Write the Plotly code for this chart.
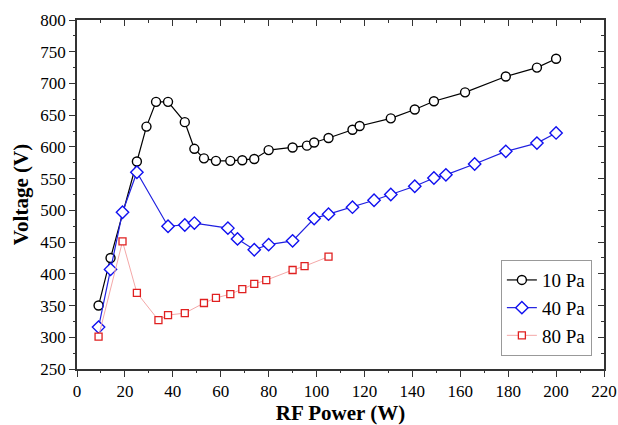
import plotly.graph_objects as go

# 10 Pa
p10_x = [9, 14, 25, 29, 33, 38, 45, 49, 53, 58, 64, 69, 74, 80, 90, 96, 99, 105, 115, 118, 131, 141, 149, 162, 179, 192, 200]
p10_y = [350, 425, 577, 632, 671, 671, 639, 597, 582, 578, 578, 579, 581, 595, 599, 602, 607, 614, 627, 633, 645, 659, 672, 686, 711, 725, 739]
# 40 Pa
p40_x = [9, 14, 19, 25, 38, 45, 49, 63, 67, 74, 80, 90, 99, 105, 115, 124, 131, 141, 149, 154, 166, 179, 192, 200]
p40_y = [316, 407, 497, 560, 475, 477, 480, 472, 455, 438, 446, 452, 487, 494, 505, 516, 525, 538, 551, 556, 573, 593, 606, 622]
# 80 Pa
p80_x = [9, 19, 25, 34, 38, 45, 53, 58, 64, 69, 74, 79, 90, 95, 105]
p80_y = [301, 451, 370, 327, 335, 338, 354, 362, 368, 376, 384, 390, 406, 412, 427]

names = ["10 Pa", "40 Pa", "80 Pa"]
x_ticks = list(range(0, 221, 20))
y_ticks = list(range(250, 801, 50))
x_minor = list(range(10, 220, 20))
y_minor = list(range(275, 800, 50))

FONT = "Liberation Serif"
X_RANGE = [0, 220]
Y_RANGE = [250, 800]

fig = go.Figure()
fig.add_trace(go.Scatter(
    x=p10_x, y=p10_y, name=names[0], mode="lines+markers",
    line=dict(color="black", width=1.2),
    marker=dict(symbol="circle", size=9, color="white", line=dict(color="black", width=1.4)),
))
fig.add_trace(go.Scatter(
    x=p40_x, y=p40_y, name=names[1], mode="lines+markers",
    line=dict(color="#2020e0", width=1.2),
    marker=dict(symbol="diamond", size=9.5, color="white", line=dict(color="#1010f0", width=1.4)),
))
fig.add_trace(go.Scatter(
    x=p80_x, y=p80_y, name=names[2], mode="lines+markers",
    line=dict(color="#f4a8a8", width=1.0),
    marker=dict(symbol="square", size=7, color="white", line=dict(color="#e02020", width=1.3)),
))
# empty traces that create the extra tick-only axes
for k in ("2", "3", "4"):
    fig.add_trace(go.Scatter(x=[], y=[], xaxis="x" + k, yaxis="y" + k, showlegend=False, hoverinfo="skip"))

base = dict(showgrid=False, zeroline=False, automargin=False, tickcolor="#333")

fig.update_layout(
    width=618, height=425,
    margin=dict(l=77, r=14, t=20, b=56, autoexpand=False),
    paper_bgcolor="white", plot_bgcolor="white",
    font=dict(family=FONT, size=16, color="black"),
    xaxis=dict(range=X_RANGE, tickvals=x_ticks, ticks="outside", ticklen=6, tickwidth=1.3,
               showline=True, linecolor="#333", linewidth=1.5, **base,
               title=dict(text="<b>RF Power (W)</b>", font=dict(family=FONT, size=21, color="black"), standoff=8),
               tickfont=dict(family=FONT, size=17, color="black")),
    yaxis=dict(range=Y_RANGE, tickvals=y_ticks, ticks="outside", ticklen=6, tickwidth=1.3,
               showline=True, linecolor="#333", linewidth=1.5, **base,
               title=dict(text="<b>Voltage (V)</b>", font=dict(family=FONT, size=21, color="black"), standoff=6),
               tickfont=dict(family=FONT, size=17, color="black")),
    # top / right border with inward major ticks
    xaxis2=dict(range=X_RANGE, overlaying="x", side="top", tickvals=x_ticks, ticks="inside", ticklen=6,
                tickwidth=1.3, showticklabels=False, showline=True, linecolor="#333", linewidth=1.5, **base),
    yaxis2=dict(range=Y_RANGE, overlaying="y", side="right", tickvals=y_ticks, ticks="inside", ticklen=6,
                tickwidth=1.3, showticklabels=False, showline=True, linecolor="#333", linewidth=1.5, **base),
    # minor ticks bottom / left (outward)
    xaxis3=dict(range=X_RANGE, overlaying="x", side="bottom", tickvals=x_minor, ticks="outside", ticklen=3,
                tickwidth=1.2, showticklabels=False, showline=False, **base),
    yaxis3=dict(range=Y_RANGE, overlaying="y", side="left", tickvals=y_minor, ticks="outside", ticklen=3,
                tickwidth=1.2, showticklabels=False, showline=False, **base),
    # minor ticks top / right (inward)
    xaxis4=dict(range=X_RANGE, overlaying="x", side="top", tickvals=x_minor, ticks="inside", ticklen=3,
                tickwidth=1.2, showticklabels=False, showline=False, **base),
    yaxis4=dict(range=Y_RANGE, overlaying="y", side="right", tickvals=y_minor, ticks="inside", ticklen=3,
                tickwidth=1.2, showticklabels=False, showline=False, **base),
    legend=dict(x=0.977, y=0.037, xanchor="right", yanchor="bottom",
                bordercolor="#999", borderwidth=1, bgcolor="white",
                font=dict(family=FONT, size=19, color="black"), tracegroupgap=0, itemwidth=30),
    showlegend=True,
)

fig.write_html("out.html")
